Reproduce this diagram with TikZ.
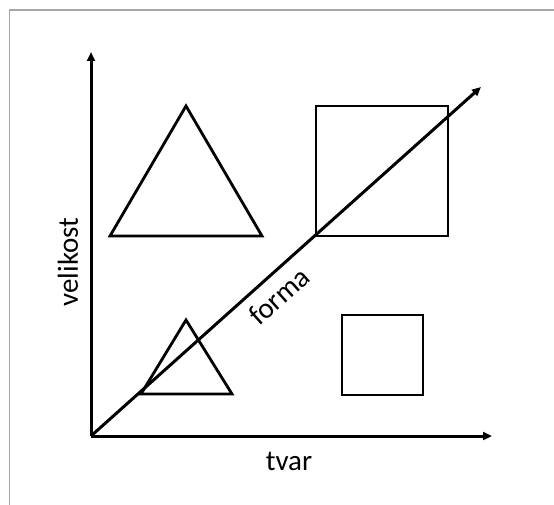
\documentclass[tikz,border=0pt]{standalone}
\usepackage{fontspec}
\setmainfont{Carlito}
\usetikzlibrary{arrows.meta}
\begin{document}
\begin{tikzpicture}[x=1pt, y=-1pt, >={Triangle[length=9pt,width=8pt]},
  every node/.style={font=\fontsize{29}{33}\selectfont},
  axis/.style={line width=3pt},
  figline/.style={line width=2.8pt, line join=miter}]
  \useasboundingbox (0,0) rectangle (554,505);
  % Frame (cut at right and bottom)
  \draw[gray!70, line width=1.3pt] (9.5,505) -- (9.5,10) -- (554,10);
  \begin{scope}
    % Axes
    \coordinate (O) at (91,436);
    \coordinate (ytip) at (91,52);
    \coordinate (xtip) at (492,436);
    \coordinate (dtip) at (481,87);
    \draw[axis, ->] (O) -- (ytip);
    \draw[axis, ->] (O) -- (xtip);
    \draw[axis, ->] (O) -- (dtip);
    \node[rotate=90] (velikost) at (68,262) {velikost};
    \node (tvar) at (289,461) {tvar};
    \node[rotate=41.8] (forma) at (279,296) {forma};
  \end{scope}
  \begin{scope}
    % Large shapes
    \draw[figline] (186,106) -- (110,236) -- (262,236) -- cycle;
    \draw[figline] (316,106) rectangle (448,236);
    % Small shapes
    \draw[figline] (186,320) -- (141,394) -- (232,394) -- cycle;
    \draw[figline] (342,315) rectangle (423,395);
  \end{scope}
\end{tikzpicture}
\end{document}
